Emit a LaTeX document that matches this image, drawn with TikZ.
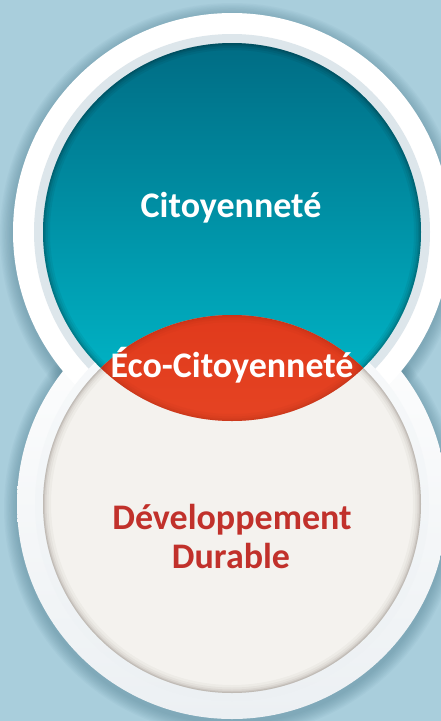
\documentclass[tikz,border=0pt]{standalone}
\usepackage{fontspec}
\setmainfont{Carlito}
\usetikzlibrary{calc}
\definecolor{bg}{HTML}{A9CEDC}
\definecolor{shad}{HTML}{4F7D8E}
\definecolor{ringtop}{HTML}{DDE6EB}
\definecolor{ringbotA}{HTML}{F8FAFB}
\definecolor{ringbotB}{HTML}{ECF0F3}
\definecolor{tealA}{HTML}{006C84}
\definecolor{tealB}{HTML}{00BCCD}
\definecolor{cream}{HTML}{F4F2EE}
\definecolor{redA}{HTML}{E03A1C}
\definecolor{redB}{HTML}{F25C34}
\definecolor{redEdge}{HTML}{9E2A14}
\definecolor{txtred}{HTML}{C1312B}
\tikzset{
  lbl/.style={font=\bfseries\fontsize{36}{42}\selectfont, anchor=base, inner sep=0pt},
}
\begin{document}
\begin{tikzpicture}[x=1pt,y=-1pt]
\fill[bg] (0,0) rectangle (441,721);
\useasboundingbox (0,0) rectangle (441,721);
\coordinate (T) at (232,232);
\coordinate (B) at (232,504);
% outer soft shadow
\foreach \k in {1,...,10}{
  \fill[shad, opacity=0.05] ($(T)+(0,3)$) circle[radius={219pt+\k*1.3pt}];
  \fill[shad, opacity=0.05] ($(B)+(0,4)$) circle[radius={215pt+\k*1.3pt}];
}
% white outer rings
\shade[top color=white, bottom color=ringbotB] (B) circle[radius=215pt];
\fill[white] (T) circle[radius=219pt];
% inner borders
\fill[ringtop] (T) circle[radius=198pt];
\shade[top color=ringbotA, bottom color=ringbotB] (B) circle[radius=197pt];
% teal circle
\shade[top color=tealA, bottom color=tealB] (T) circle[radius=189pt];
\begin{scope}
  \clip (T) circle[radius=189pt];
  \foreach \w/\o in {14/0.05,10/0.06,6/0.08,3/0.1}{
    \draw[black, opacity=\o, line width=\w pt] (T) circle[radius=189pt];
  }
\end{scope}
% cream circle
\fill[cream] (B) circle[radius=189pt];
\begin{scope}
  \clip (B) circle[radius=189pt];
  \foreach \w/\o in {16/0.03,11/0.04,7/0.05,4/0.07,2/0.08}{
    \draw[black!80!brown, opacity=\o, line width=\w pt] (B) circle[radius=189pt];
  }
\end{scope}
% red lens
\begin{scope}
  \clip (T) circle[radius=189pt];
  \shade[top color=redA, bottom color=redB] (B) circle[radius=189pt];
  \clip (B) circle[radius=189pt];
  \foreach \w/\o in {14/0.06,9/0.08,5/0.1,2/0.12}{
    \draw[redEdge, opacity=\o, line width=\w pt] (B) circle[radius=189pt];
    \draw[redEdge, opacity=\o, line width=\w pt] (T) circle[radius=189pt];
  }
\end{scope}
% labels
\node[lbl, white] (cit) at (231,217) {Citoyenneté};
\node[lbl, white] (eco) at (232,377) {Éco-Citoyenneté};
\node[lbl, txtred] (dev) at (232,529) {Développement};
\node[lbl, txtred] (dur) at (231,568) {Durable};
\end{tikzpicture}
\end{document}
